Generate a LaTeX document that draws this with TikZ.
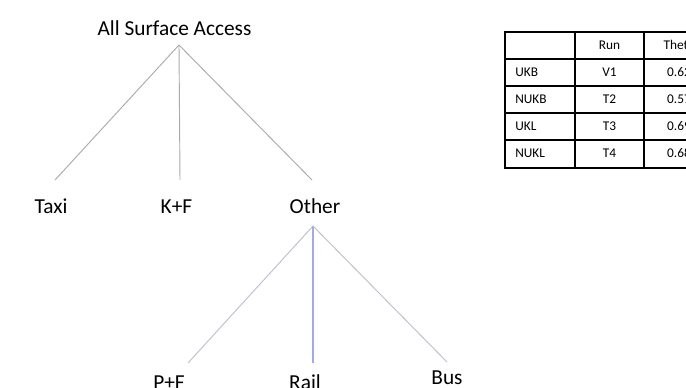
\documentclass[tikz,border=0pt]{standalone}
\usepackage{fontspec}
\setmainfont{Carlito}
\definecolor{midblue}{RGB}{160,172,222}
\definecolor{lowgray}{RGB}{190,192,205}
\definecolor{topgray}{RGB}{170,170,170}
\begin{document}
\begin{tikzpicture}[x=0.75pt,y=-0.75pt,
  lbl/.style={anchor=base,inner sep=0pt,font=\fontsize{16}{18}\selectfont},
  cell/.style={anchor=base,inner sep=0pt,font=\fontsize{10}{12}\selectfont},
  toplink/.style={draw=topgray,line width=0.7pt},
  lowlink/.style={draw=lowgray,line width=0.7pt},
  midlink/.style={draw=midblue,line width=1.2pt},
  grid/.style={draw=black,line width=1pt}]
\useasboundingbox (0,0) rectangle (686,387);
\clip (0,0) rectangle (686,387);
\fill[white] (0,0) rectangle (686,387);
% tree labels
\node[lbl] (root) at (174.5,35) {All Surface Access};
\node[lbl] (taxi) at (51,213) {Taxi};
\node[lbl] (kf) at (176.5,213) {K+F};
\node[lbl] (other) at (315,213) {Other};
\node[lbl] (pf) at (169,389) {P+F};
\node[lbl] (rail) at (305,389) {Rail};
\node[lbl] (bus) at (447,384) {Bus};
% connector points
\coordinate (apexA) at (179,45);
\coordinate (eTaxi) at (55,180);
\coordinate (eKF) at (180,180);
\coordinate (eOther) at (312,180);
\coordinate (apexB) at (313,226);
\coordinate (ePF) at (188,363);
\coordinate (eRail) at (313,363);
\coordinate (eBus) at (447,362);
\draw[toplink] (apexA) -- (eTaxi);
\draw[toplink] (apexA) -- (eKF);
\draw[toplink] (apexA) -- (eOther);
\draw[lowlink] (apexB) -- (ePF);
\draw[midlink] (apexB) -- (eRail);
\draw[lowlink] (apexB) -- (eBus);
% table
\draw[grid] (505,32) rectangle (714,168);
\foreach \yy in {59,86,113,140} \draw[grid] (505,\yy) -- (714,\yy);
\draw[grid] (575,32) -- (575,168);
\draw[grid] (644,32) -- (644,168);
\node[cell] (hRun) at (609.5,49) {Run};
\node[cell] (hTheta) at (679,49) {Theta};
\node[cell,anchor=base west] (r1) at (515,76) {UKB};
\node[cell] (r1b) at (609.5,76) {V1};
\node[cell] (r1c) at (679,76) {0.62};
\node[cell,anchor=base west] (r2) at (515,103) {NUKB};
\node[cell] (r2b) at (609.5,103) {T2};
\node[cell] (r2c) at (679,103) {0.57};
\node[cell,anchor=base west] (r3) at (515,130) {UKL};
\node[cell] (r3b) at (609.5,130) {T3};
\node[cell] (r3c) at (679,130) {0.69};
\node[cell,anchor=base west] (r4) at (515,157) {NUKL};
\node[cell] (r4b) at (609.5,157) {T4};
\node[cell] (r4c) at (679,157) {0.68};
\end{tikzpicture}
\end{document}
